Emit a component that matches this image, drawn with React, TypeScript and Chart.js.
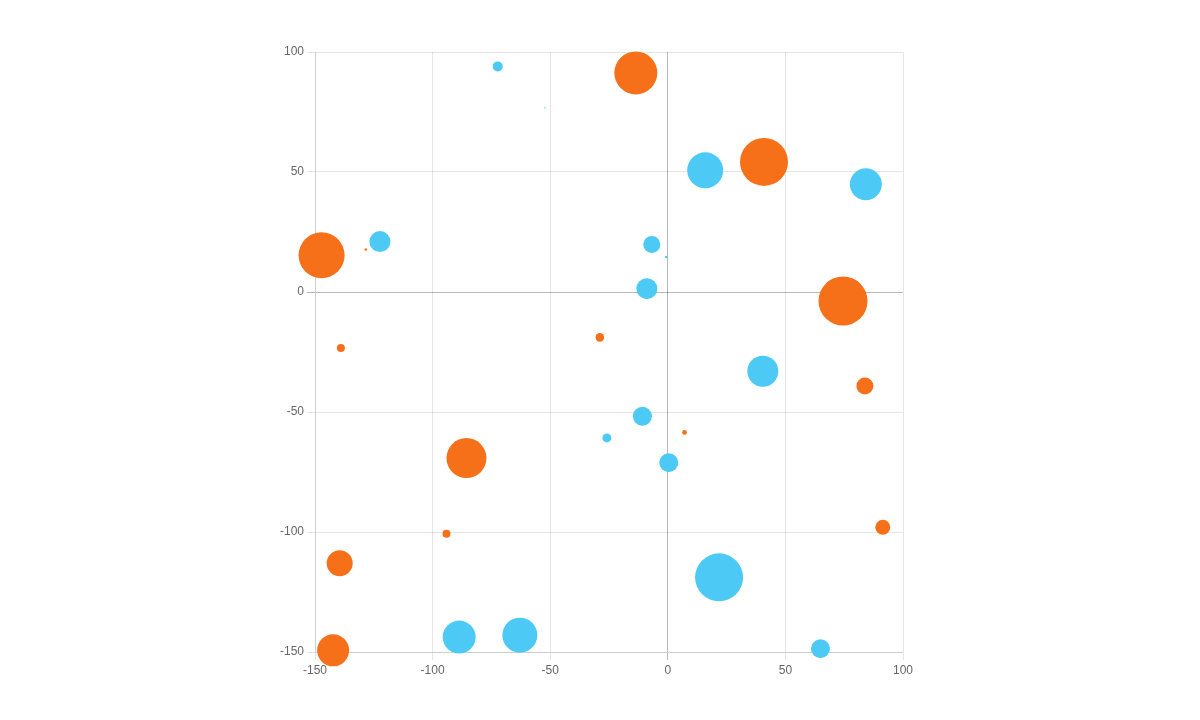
import React, { useEffect, useRef } from "react";
import { Chart, registerables } from "chart.js";

Chart.register(...registerables);

const xTicks = [-150, -100, -50, 0, 50, 100];
const yTicks = [-150, -100, -50, 0, 50, 100];

const orangeX = [-13.6, 40.9, -147.2, -128.4, 74.5, -139, -28.9, 83.8, 7.1, -85.6, -94.1, 91.4, -139.5, -142.3];
const orangeY = [91.3, 54.2, 15.3, 17.7, -3.75, -23.3, -18.9, -39.2, -58.5, -69.2, -100.7, -98, -113, -149.3];
const orangeR = [21.5, 24, 23, 1.3, 24.5, 4, 4.3, 8.5, 2.4, 20, 4, 7.5, 13, 16];

const blueX = [-72.3, -52.2, 15.9, 84.2, -122.4, -6.8, -0.7, -8.9, 40.4, -10.8, -25.9, 0.4, 21.8, -88.7, -62.9, 64.9];
const blueY = [94, 76.8, 50.7, 44.9, 21, 19.75, 14.6, 1.4, -33, -51.8, -60.8, -71.1, -118.9, -143.8, -143, -148.6];
const blueR = [5, 0.7, 18, 16, 10.5, 8.5, 1.2, 10.5, 15.5, 9.5, 4.5, 9.5, 24, 16.5, 17.5, 9.5];

const ORANGE = "#f67019";
const BLUE = "#4dc9f6";

function build(xs: number[], ys: number[], rs: number[]) {
  return xs.map((x, i) => ({ x, y: ys[i], r: rs[i] }));
}

export default function App() {
  const ref = useRef<HTMLCanvasElement | null>(null);

  useEffect(() => {
    if (!ref.current) return;
    const font = { family: "'Liberation Sans', Arial, sans-serif", size: 12 };
    const gridColor = (ctx: any) =>
      ctx.tick && ctx.tick.value === 0 ? "rgba(0,0,0,0.28)" : "rgba(0,0,0,0.1)";
    const chart = new Chart(ref.current, {
      type: "bubble",
      data: {
        datasets: [
          {
            label: "Dataset 1",
            data: build(orangeX, orangeY, orangeR),
            backgroundColor: ORANGE,
            borderColor: ORANGE,
            borderWidth: 0,
            clip: false as any,
          },
          {
            label: "Dataset 2",
            data: build(blueX, blueY, blueR),
            backgroundColor: BLUE,
            borderColor: BLUE,
            borderWidth: 0,
            clip: false as any,
          },
        ],
      },
      options: {
        animation: false,
        responsive: true,
        maintainAspectRatio: false,
        layout: { padding: { left: 265, right: 297, top: 52, bottom: 38 } },
        plugins: { legend: { display: false }, title: { display: false }, tooltip: { enabled: false } },
        scales: {
          x: {
            type: "linear",
            min: xTicks[0],
            max: xTicks[xTicks.length - 1],
            afterBuildTicks: (s: any) => {
              s.ticks = xTicks.map((v) => ({ value: v }));
            },
            afterFit: (s: any) => {
              s.height = 30;
            },
            ticks: { color: "#666", font, maxRotation: 0 },
            grid: { color: gridColor },
          },
          y: {
            type: "linear",
            min: yTicks[0],
            max: yTicks[yTicks.length - 1],
            afterBuildTicks: (s: any) => {
              s.ticks = yTicks.map((v) => ({ value: v }));
            },
            afterFit: (s: any) => {
              s.width = 50;
            },
            ticks: { color: "#666", font },
            grid: { color: gridColor },
          },
        },
      },
    });
    return () => chart.destroy();
  }, []);

  return (
    <div style={{ position: "absolute", left: 0, top: 0, width: 1200, height: 720, background: "#fff" }}>
      <canvas ref={ref} />
    </div>
  );
}
